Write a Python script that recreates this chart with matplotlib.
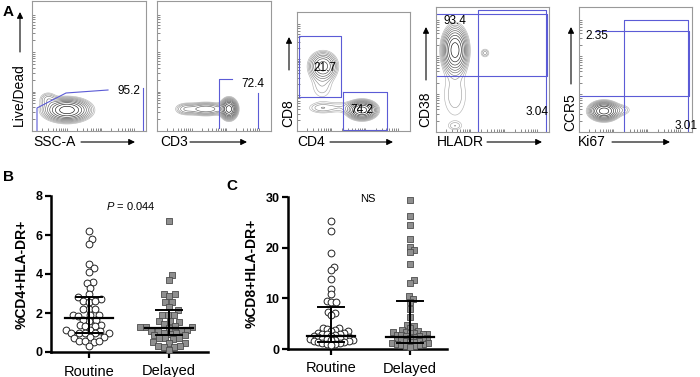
import numpy as np
import matplotlib
matplotlib.use('Agg')
from matplotlib import pyplot as plt

plt.rcParams['font.family'] = ['Liberation Sans', 'DejaVu Sans']
plt.rcParams['mathtext.fontset'] = 'custom'
plt.rcParams['mathtext.it'] = 'Liberation Sans:italic'
plt.rcParams['mathtext.rm'] = 'Liberation Sans'

# ---------------- data ----------------
groups = ['Routine', 'Delayed']

cd4_routine = [6.2, 5.8, 5.55, 4.5, 4.3, 4.1, 3.6, 3.55, 3.3, 3.0, 2.8, 2.7,
               2.6, 2.55, 2.6, 2.2, 2.2, 2.2, 1.9, 1.9, 1.9, 1.85, 1.65, 1.6,
               1.65, 1.4, 1.4, 1.35, 1.35, 1.15, 1.1, 1.15, 0.95, 0.95, 0.95,
               0.95, 0.95, 0.75, 0.7, 0.75, 0.55, 0.55, 0.5, 0.55, 0.3]
cd4_delayed = [6.7, 3.95, 3.7, 3.0, 2.95, 2.85, 2.55, 2.55, 2.3, 2.15, 1.9,
               1.9, 1.9, 1.6, 1.6, 1.55, 1.45, 1.35, 1.3, 1.3, 1.3, 1.25, 1.15,
               1.15, 1.1, 1.1, 1.0, 1.0, 0.9, 0.85, 0.85, 0.7, 0.7, 0.7, 0.65,
               0.5, 0.45, 0.45, 0.3, 0.3, 0.25, 0.25, 0.1]
cd8_routine = [25.3, 23.3, 18.9, 16.2, 15.5, 13.9, 11.8, 10.8, 9.4, 9.2, 9.2,
               7.3, 7.2, 6.7, 4.2, 4.2, 3.8, 3.9, 3.5, 3.5, 3.2, 3.1, 3.0, 3.0,
               2.9, 2.8, 2.6, 2.5, 2.4, 2.3, 2.2, 2.1, 2.0, 2.0, 1.9, 1.8, 1.7,
               1.7, 1.6, 1.5, 1.4, 1.3, 1.2, 1.1, 1.0, 0.9, 0.8]
cd8_delayed = [29.5, 26.3, 24.5, 21.7, 20.2, 19.5, 19.2, 16.7, 13.6, 13.1,
               10.4, 9.9, 9.2, 7.9, 6.4, 4.8, 4.6, 4.2, 3.8, 3.6, 3.4, 3.3, 3.2,
               3.1, 3.0, 2.9, 2.8, 2.7, 2.6, 2.5, 2.3, 2.2, 2.1, 2.0, 1.9, 1.8,
               1.6, 1.5, 1.4, 1.3, 1.2, 1.1, 1.0, 0.9, 0.8, 0.7, 0.6, 0.5, 0.4]

# median and interquartile range bars as drawn
cd4_median = [1.75, 1.25]
cd4_q1 = [1.0, 0.85]
cd4_q3 = [2.8, 2.15]
cd8_median = [2.6, 2.4]
cd8_q1 = [1.3, 1.1]
cd8_q3 = [8.2, 9.5]
cd4_ticks = [0, 2, 4, 6, 8]
cd8_ticks = [0, 10, 20, 30]

# panel A: gate percentages and axis names
gate_pct = ['95.2', '72.4', '21.7', '74.2', '93.4', '3.04', '2.35', '3.01']
x_names = ['SSC-A', 'CD3', 'CD4', 'HLADR', 'Ki67']
y_names = ['Live/Dead', 'CD8', 'CD38', 'CCR5']

# cell populations for the contour plots: (x, y, spread x, spread y, weight)
pop_live = [(67, 110, 11, 5.5, 1.0), (48, 99, 5, 4, 0.12)]
pop_cd3 = [(229, 109, 4, 5, 1.0), (206, 109, 11, 3.5, 0.3), (185, 109, 6, 3.5, 0.12)]
pop_cd4cd8 = [(362, 110, 7, 4.5, 1.0), (323, 66, 7, 7, 0.5), (322, 86, 8, 10, 0.07),
              (322, 108, 9, 3.5, 0.1), (341, 107, 8, 4, 0.06)]
pop_hladr = [(455, 50, 6, 11, 1.0), (455, 95, 10, 19, 0.07),
             (455, 126, 5, 3, 0.06), (485, 53, 3, 3, 0.09)]
pop_ki67 = [(604, 111, 7, 4.5, 1.0), (622, 110, 6, 3.5, 0.08)]

# ---------------- figure ----------------
W, H = 700, 377
fig = plt.figure(figsize=(7, 3.77), dpi=100)
gate_c = '#5b5bd6'


def px_axes(x0, y0, x1, y1):
    return fig.add_axes([x0 / W, 1 - y1 / H, (x1 - x0) / W, (y1 - y0) / H])


def flow_panel(box, pops):
    x0, y0, x1, y1 = box
    ax = px_axes(*box)
    X, Y = np.meshgrid(np.linspace(x0, x1, 300), np.linspace(y0, y1, 300))
    Z = np.zeros_like(X)
    for cx, cy, sx, sy, w in pops:
        Z += w * np.exp(-0.5 * (((X - cx) / sx) ** 2 + ((Y - cy) / sy) ** 2))
    Z /= Z.max()
    levels = np.geomspace(0.04, 0.8, 10)
    cols = plt.cm.Greys(np.linspace(0.4, 0.95, len(levels)))
    ax.contour(X, Y, Z, levels=levels, colors=cols, linewidths=0.45)
    ax.set_xlim(x0, x1)
    ax.set_ylim(y1, y0)
    for s in ax.spines.values():
        s.set_color('0.6')
        s.set_linewidth(0.8)
    # log-like decade ticks
    dec = np.log10(np.arange(1, 10))
    xt = np.concatenate([x0 + (x1 - x0) * (k + dec) / 3.3 for k in range(3)])
    yt = np.concatenate([y1 - (y1 - y0) * (k + dec) / 3.3 for k in range(3)])
    ax.set_xticks(xt[(xt > x0 + 3) & (xt < x1 - 3)])
    ax.set_yticks(yt[(yt > y0 + 3) & (yt < y1 - 3)])
    ax.tick_params(direction='in', length=2, width=0.5, color='0.35',
                   labelbottom=False, labelleft=False)
    return ax


a1 = flow_panel((32, 1, 146, 131), pop_live)
a1.plot([37, 37, 66, 108], [131, 108, 93, 90], color=gate_c, lw=0.8)
a1.plot([143, 143], [88, 131], color=gate_c, lw=0.8)

a2 = flow_panel((157, 1, 271, 131), pop_cd3)
a2.plot([232, 219, 219], [79, 79, 128], color=gate_c, lw=0.8)
a2.plot([258, 258], [93, 128], color=gate_c, lw=0.8)

a3 = flow_panel((297, 12, 410, 131), pop_cd4cd8)
a3.plot([299, 341, 341, 299, 299], [36, 36, 97, 97, 36], color=gate_c, lw=0.8)
a3.plot([343, 387, 387, 343, 343], [92, 92, 130, 130, 92], color=gate_c, lw=0.8)

a4 = flow_panel((436, 7, 549, 132), pop_hladr)
a4.plot([437, 547, 547, 437], [14, 14, 76, 76], color=gate_c, lw=0.8)
a4.plot([478, 478, 546, 546], [131, 10, 10, 131], color=gate_c, lw=0.8)

a5 = flow_panel((579, 7, 692, 132), pop_ki67)
a5.plot([595, 689, 689, 580], [31, 31, 96, 96], color=gate_c, lw=0.8)
a5.plot([624, 624, 688, 688], [132, 20, 20, 132], color=gate_c, lw=0.8)


# ---------------- scatter panels ----------------
def swarm(vals, center, ppy, ppx, d):
    # simple bee-swarm: closest free spot to the centre line, in pixels
    vals = np.asarray(vals, float)
    xs = np.zeros(len(vals))
    placed = []
    for i in np.argsort(vals):
        y = vals[i] * ppy
        cands = [0.0]
        for px, py in placed:
            dy = y - py
            if abs(dy) < d:
                dx = np.sqrt(d * d - dy * dy)
                cands += [px + dx, px - dx]
        cands.sort(key=abs)
        for c in cands:
            if all((c - px) ** 2 + (y - py) ** 2 >= d * d - 1e-6 for px, py in placed):
                break
        placed.append((c, y))
        xs[i] = center + c / ppx
    return xs


def dot_panel(box, xlim, ylim, routine, delayed, med, q1, q3, ticks, ylabel, d):
    x0, y0, x1, y1 = box
    ax = px_axes(*box)
    ax.set_xlim(*xlim)
    ax.set_ylim(*ylim)
    ppx = (x1 - x0) / (xlim[1] - xlim[0])
    ppy = (y1 - y0) / (ylim[1] - ylim[0])
    xr = swarm(routine, 0, ppy, ppx, d)
    xd = swarm(delayed, 1, ppy, ppx, d)
    ax.scatter(xr, routine, s=24, marker='o', facecolor='white',
               edgecolor='#222222', linewidth=0.7, zorder=3, clip_on=False)
    ax.scatter(xd, delayed, s=22, marker='s', facecolor='#8f8f8f',
               edgecolor='#4d4d4d', linewidth=0.6, zorder=3, clip_on=False)
    for i in range(2):
        ax.plot([i - 0.3, i + 0.3], [med[i], med[i]], color='black', lw=1.6, zorder=4)
        ax.plot([i, i], [q1[i], q3[i]], color='black', lw=1.4, zorder=4)
        for q in (q1[i], q3[i]):
            ax.plot([i - 0.16, i + 0.16], [q, q], color='black', lw=1.4, zorder=4)
    for s in ('top', 'right'):
        ax.spines[s].set_visible(False)
    for s in ('left', 'bottom'):
        ax.spines[s].set_linewidth(1.8)
    ax.set_yticks(ticks)
    ax.set_yticklabels([str(t) for t in ticks], fontsize=9, fontweight='bold')
    ax.set_xticks([0, 1])
    ax.set_xticklabels(groups, fontsize=10.5)
    ax.tick_params(width=1.6, length=4, pad=2)
    ax.tick_params(axis='x', pad=5)
    ax.set_ylabel(ylabel, fontsize=10, fontweight='bold', labelpad=5)
    return ax


bB = dot_panel((51, 196, 208, 352), (-0.475, 1.49), (0, 8), cd4_routine,
               cd4_delayed, cd4_median, cd4_q1, cd4_q3, cd4_ticks, '%CD4+HLA-DR+', 6.0)
bC = dot_panel((288, 197, 447, 349), (-0.545, 1.47), (0, 30), cd8_routine,
               cd8_delayed, cd8_median, cd8_q1, cd8_q3, cd8_ticks, '%CD8+HLA-DR+', 4.5)

# ---------------- overlay texts and arrows ----------------
ov = fig.add_axes([0, 0, 1, 1], zorder=10)
ov.set_xlim(0, W)
ov.set_ylim(H, 0)
ov.axis('off')
ov.patch.set_alpha(0)

arw = dict(arrowstyle='-|>', color='black', lw=0.8, mutation_scale=9,
           shrinkA=0, shrinkB=0)

# gate values
pct_pos = [(129, 91), (253, 84), (325, 68), (362, 110), (455, 21), (537, 112),
           (597, 36), (686, 126)]
for (px, py), t in zip(pct_pos, gate_pct):
    ov.text(px, py, t, fontsize=8.5, ha='center', va='center')

# x-axis names with arrows
x_lab = [(33, 81, 135), (160, 190, 247), (297, 330, 393), (437, 487, 542), (578, 612, 670)]
for (tx, a0, a1_), name in zip(x_lab, x_names):
    ov.text(tx, 142, name, fontsize=10, ha='left', va='center')
    ov.annotate('', xy=(a1_, 142), xytext=(a0, 142), arrowprops=arw)

# y-axis names with arrows
y_lab = [(19, 95, 52, 12), (288, 113, 70, 37), (425, 109, 80, 27), (570, 112, 84, 27)]
for (tx, ty, a0, a1_), name in zip(y_lab, y_names):
    ov.text(tx, ty, name, fontsize=10, rotation=90, ha='center', va='center')
    ov.annotate('', xy=(tx + 1, a1_), xytext=(tx + 1, a0), arrowprops=arw)

# panel letters and statistics
ov.text(3, 12, 'A', fontsize=11, fontweight='bold', va='center')
ov.text(3, 177, 'B', fontsize=11, fontweight='bold', va='center')
ov.text(226, 186, 'C', fontsize=11, fontweight='bold', va='center')
ov.text(131, 206, '$P$ = 0.044', fontsize=8, ha='center', va='center')
ov.text(368, 199, 'NS', fontsize=8, ha='center', va='center')

plt.savefig('out.png', dpi=100)
